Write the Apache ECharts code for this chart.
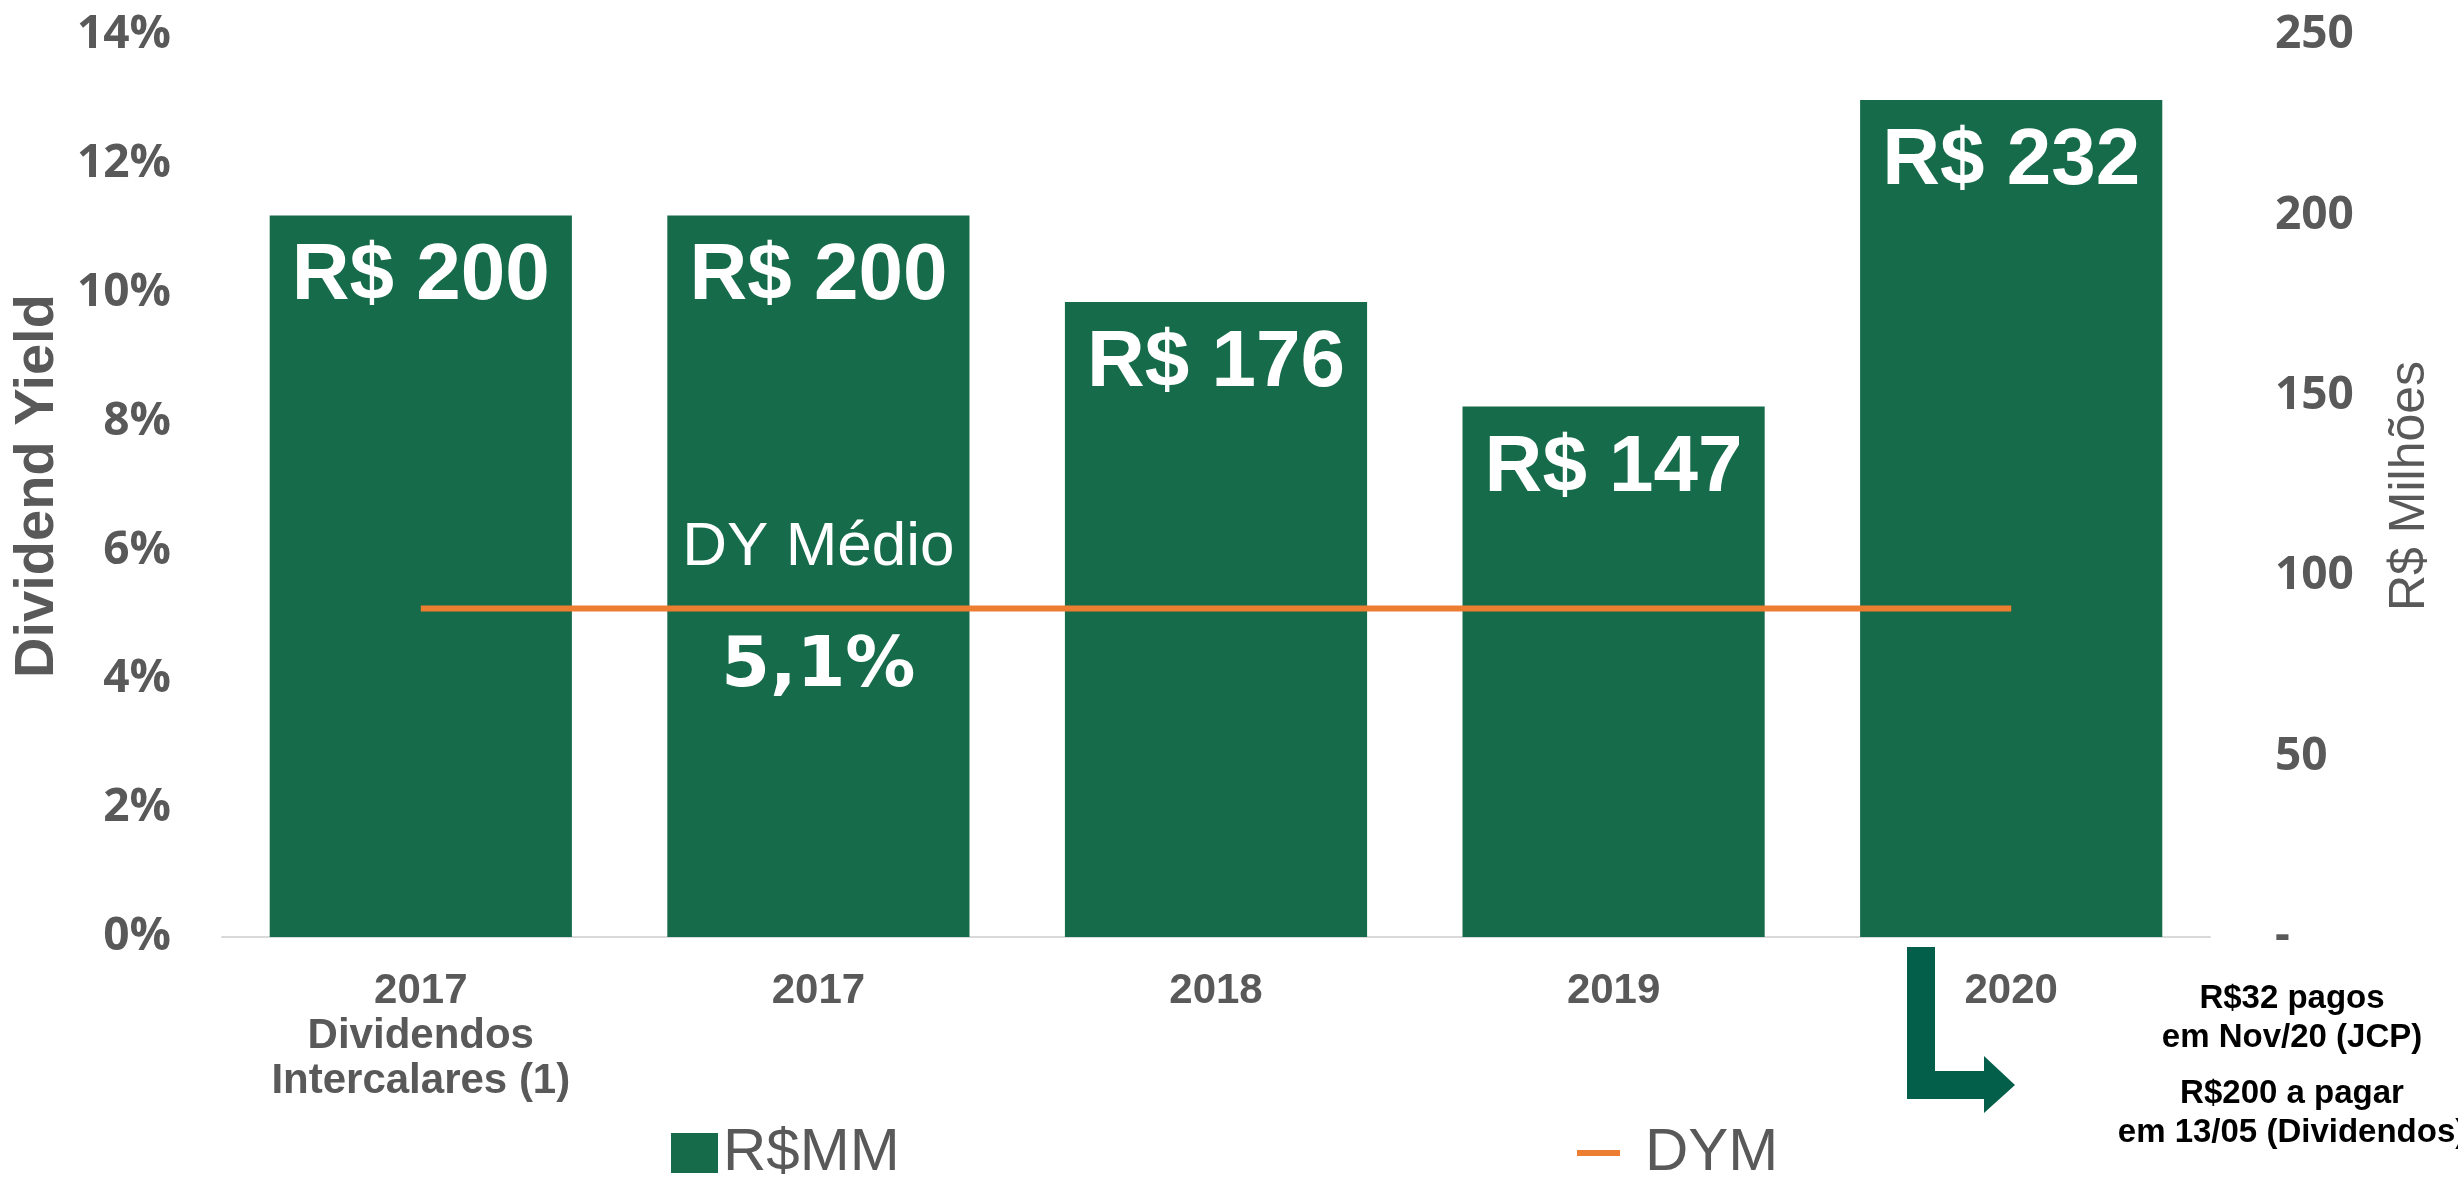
<!DOCTYPE html>
<html>
<head>
<meta charset="utf-8">
<script src="https://cdn.jsdelivr.net/npm/echarts@6/dist/echarts.min.js"></script>
<style>
    html, body { margin: 0; padding: 0; background: #fff; }
    #chart { width: 2458px; height: 1182px; }
</style>
</head>
<body>
<div id="chart"></div>
<script>
    // dados
    const categories = ['2017\nDividendos\nIntercalares (1)', '2017', '2018', '2019', '2020'];
    const rsMM = [200, 200, 176, 147, 232];          // R$ milhões
    const dyMedio = [5.1, 5.1, 5.1, 5.1, 5.1];       // dividend yield médio (%)
    const notaLinhas = ['R$32 pagos', 'em Nov/20 (JCP)', 'R$200 a pagar', 'em 13/05 (Dividendos)'];

    const gray = '#595959';
    const green = '#166B4A';
    const orange = '#ED7D31';

    let chart = echarts.init(document.getElementById('chart'));

    chart.setOption({
        animation: false,
        grid: {
            left: 222,
            right: 248,
            top: 35,
            bottom: 245
        },
        legend: [{
            data: [{ name: 'R$MM', icon: 'rect' }],
            left: 666,
            top: 1118,
            itemWidth: 47,
            itemHeight: 40,
            itemGap: 0,
            textStyle: { color: gray, fontSize: 60, fontFamily: 'Liberation Sans' }
        }, {
            data: [{ name: 'DYM', icon: 'rect' }],
            left: 1572,
            top: 1118,
            itemWidth: 43,
            itemHeight: 6,
            textStyle: { color: gray, fontSize: 60, fontFamily: 'Liberation Sans', padding: [0, 0, 0, 20] }
        }],
        xAxis: {
            type: 'category',
            data: categories,
            axisLine: { lineStyle: { color: '#D9D9D9', width: 2 } },
            axisTick: { inside: true, length: 12, lineStyle: { color: '#D9D9D9', width: 2 } },
            axisLabel: {
                color: gray,
                fontSize: 42,
                fontWeight: 'bold',
                fontFamily: 'Liberation Sans',
                lineHeight: 45,
                margin: 32
            }
        },
        yAxis: [{
            type: 'value',
            min: 0,
            max: 14,
            interval: 2,
            name: 'Dividend Yield',
            nameLocation: 'middle',
            nameGap: 155,
            nameTextStyle: { color: gray, fontSize: 56, fontWeight: 'bold', fontFamily: 'Liberation Sans' },
            splitLine: { show: false },
            axisLine: { show: false },
            axisTick: { show: false },
            axisLabel: {
                color: gray,
                fontSize: 46,
                fontWeight: 'bold',
                fontFamily: 'Open Sans',
                margin: 51,
                formatter: v => v + '%'
            }
        }, {
            type: 'value',
            min: 0,
            max: 250,
            interval: 50,
            name: 'R$ Milhões',
            nameLocation: 'middle',
            nameGap: 175,
            nameTextStyle: { color: gray, fontSize: 50, fontFamily: 'Liberation Sans' },
            splitLine: { show: false },
            axisLine: { show: false },
            axisTick: { show: false },
            axisLabel: {
                color: gray,
                fontSize: 46,
                fontWeight: 'bold',
                fontFamily: 'Open Sans',
                margin: 65,
                formatter: v => v === 0 ? '-' : v
            }
        }],
        series: [{
            name: 'R$MM',
            type: 'bar',
            yAxisIndex: 1,
            data: rsMM,
            barCategoryGap: '24%',
            itemStyle: { color: green },
            label: {
                show: true,
                position: 'insideTop',
                distance: 22,
                color: '#fff',
                fontSize: 80,
                lineHeight: 80,
                fontWeight: 'bold',
                fontFamily: 'Liberation Sans',
                formatter: p => 'R$ ' + p.value
            }
        }, {
            name: 'DYM',
            type: 'line',
            yAxisIndex: 0,
            data: dyMedio.map((v, i) => i === 1 ? {
                value: v,
                label: {
                    show: true,
                    position: 'inside',
                    formatter: p => '{a|DY Médio}\n{b|' + String(p.value).replace('.', ',') + '%}',
                    rich: {
                        a: { color: '#fff', fontSize: 62, lineHeight: 118, fontFamily: 'Liberation Sans' },
                        b: { color: '#fff', fontSize: 70, lineHeight: 122, fontWeight: 'bold', fontFamily: 'DejaVu Sans' }
                    }
                }
            } : v),
            symbol: 'circle',
            symbolSize: 0.1,
            showSymbol: true,
            itemStyle: { color: orange },
            lineStyle: { color: orange, width: 6 },
            z: 5
        }],
        graphic: [{
            type: 'polygon',
            shape: {
                points: [[1907, 947], [1935, 947], [1935, 1071], [1984, 1071], [1984, 1056],
                         [2015, 1085], [1984, 1113], [1984, 1099], [1907, 1099]]
            },
            style: { fill: '#045F4A' }
        }, {
            type: 'text',
            x: 2292,
            y: 979,
            style: {
                text: notaLinhas[0] + '\n' + notaLinhas[1],
                align: 'center',
                fill: '#000',
                font: 'bold 33px "Liberation Sans"',
                lineHeight: 39
            }
        }, {
            type: 'text',
            x: 2292,
            y: 1074,
            style: {
                text: notaLinhas[2] + '\n' + notaLinhas[3],
                align: 'center',
                fill: '#000',
                font: 'bold 33px "Liberation Sans"',
                lineHeight: 39
            }
        }]
    });
</script>
</body>
</html>
